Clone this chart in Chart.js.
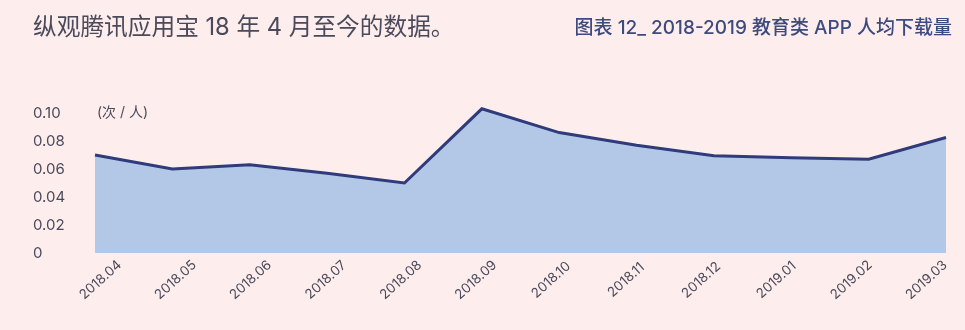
<!DOCTYPE html>
<html>
<head>
<meta charset="utf-8">
<script src="https://cdn.jsdelivr.net/npm/chart.js@4/dist/chart.umd.min.js"></script>
<style>
  html, body { margin: 0; padding: 0; background: #fdeded; }
  #wrap { position: relative; width: 965px; height: 330px; overflow: hidden; }
  #c { position: absolute; left: 0; top: 0; }
  .t { position: absolute; white-space: nowrap; font-family: Inter, "Noto Sans CJK SC", sans-serif; line-height: 1; }
  #t1 { left: 33px; top: 15px; font-size: 23.7px; color: #4a4a5a; }
  #t2 { right: 13px; top: 18px; font-size: 19px; font-weight: 500; color: #3d4a7d; }
</style>
</head>
<body>
<div id="wrap">
  <canvas id="c" width="965" height="330"></canvas>
  <div class="t" id="t1">纵观腾讯应用宝 18 年 4 月至今的数据。</div>
  <div class="t" id="t2">图表 12_ 2018-2019 教育类 APP 人均下载量</div>
</div>
<script>
const categories = ['2018.04','2018.05','2018.06','2018.07','2018.08','2018.09','2018.10','2018.11','2018.12','2019.01','2019.02','2019.03'];
const perCapitaDownloads = [0.070, 0.060, 0.063, 0.057, 0.050, 0.103, 0.086, 0.077, 0.0695, 0.068, 0.067, 0.0825];
const yTicks = [0, 0.02, 0.04, 0.06, 0.08, 0.10];
const yTickLabels = ['0', '0.02', '0.04', '0.06', '0.08', '0.10'];
const unitLabel = '(次 / 人)';

const FONT = 'Inter, "Noto Sans CJK SC", sans-serif';
const TEXT = '#4a4a5a';

const labelPlugin = {
  id: 'customLabels',
  afterDraw(chart) {
    const ctx = chart.ctx;
    const x = chart.scales.x, y = chart.scales.y;
    const area = chart.chartArea;
    ctx.save();
    ctx.fillStyle = TEXT;
    ctx.font = '14px ' + FONT;
    ctx.textAlign = 'left';
    ctx.textBaseline = 'middle';
    ctx.fillText(unitLabel, area.left + 2, y.getPixelForValue(0.10));
    ctx.font = '13.5px ' + FONT;
    ctx.textAlign = 'center';
    const mid = (area.left + area.right) / 2;
    categories.forEach((lab, i) => {
      const px = x.getPixelForTick(i);
      const cx = mid - 7 + (px - mid) * 0.9706;
      ctx.save();
      ctx.translate(cx, area.bottom + 27);
      ctx.rotate(-42 * Math.PI / 180);
      ctx.fillText(lab, 0, 0);
      ctx.restore();
    });
    ctx.restore();
  }
};

new Chart(document.getElementById('c'), {
  type: 'line',
  data: {
    labels: categories,
    datasets: [{
      data: perCapitaDownloads,
      borderColor: '#2f3b7a',
      borderWidth: 3,
      backgroundColor: '#b3c7e6',
      fill: 'origin',
      pointRadius: 0,
      tension: 0
    }]
  },
  options: {
    responsive: false,
    animation: false,
    layout: { padding: { left: 33, right: 19, top: 99, bottom: 0 } },
    plugins: { legend: { display: false }, tooltip: { enabled: false } },
    scales: {
      x: {
        grid: { display: false },
        border: { display: false },
        ticks: { display: false },
        afterFit(scale) { scale.height = 77; }
      },
      y: {
        min: 0,
        max: 0.11,
        grid: { display: false },
        border: { display: false },
        afterBuildTicks(scale) { scale.ticks = yTicks.map(v => ({ value: v })); },
        afterFit(scale) { scale.width = 62; },
        ticks: {
          crossAlign: 'far',
          color: TEXT,
          font: { size: 15, family: FONT },
          callback(value) {
            const i = yTicks.findIndex(t => Math.abs(t - value) < 1e-9);
            return i >= 0 ? yTickLabels[i] : '';
          }
        }
      }
    }
  },
  plugins: [labelPlugin]
});
</script>
</body>
</html>
